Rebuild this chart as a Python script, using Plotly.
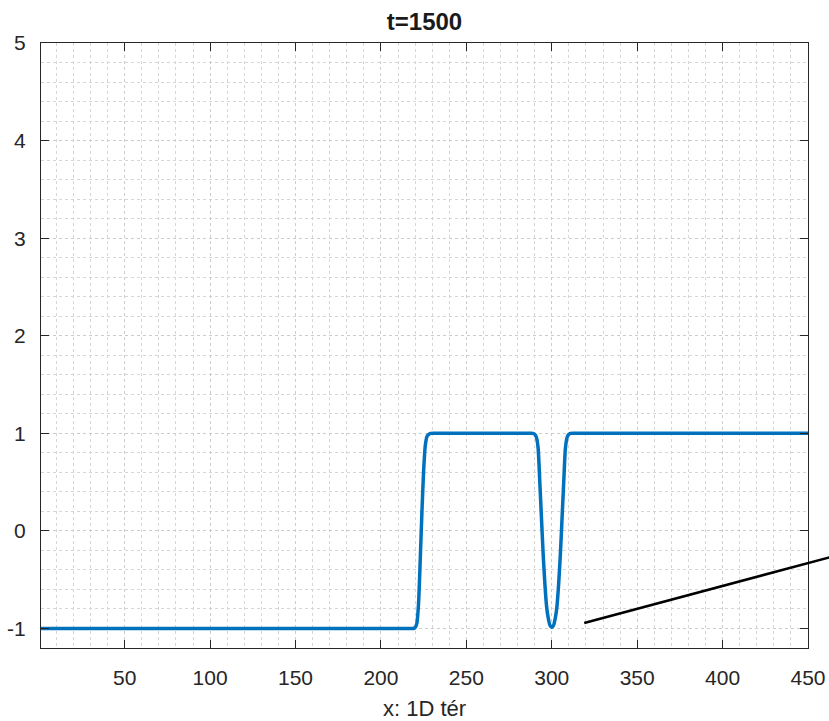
import plotly.graph_objects as go

# ---- data ----
x_vals = [1, 150, 215, 219, 220, 221, 222, 223, 224, 225, 226, 227, 228, 229, 235,
          285, 289, 290, 291, 292, 293, 294, 295, 296, 297, 298, 299, 300,
          301, 302, 303, 304, 305, 306, 307, 308, 309, 310, 311, 315, 400, 450]
u_vals = [-1, -1, -1, -1, -0.99, -0.95, -0.75, -0.3, 0.2, 0.62, 0.88, 0.97, 0.99, 1.0, 1.0,
          1.0, 1.0, 0.99, 0.96, 0.85, 0.5, 0.12, -0.25, -0.55, -0.78, -0.9, -0.97, -0.99,
          -0.97, -0.9, -0.78, -0.55, -0.25, 0.12, 0.5, 0.85, 0.96, 0.99, 1.0, 1.0, 1.0, 1.0]

x_ticks = [50, 100, 150, 200, 250, 300, 350, 400, 450]
y_ticks = [-1, 0, 1, 2, 3, 4, 5]
y_tick_text = ["-1", "0", "1", "2", "3", "4", "5"]
x_range = [1, 450]
y_range = [-1.2, 5]

title_text = "t=1500"
x_label = "x: 1D tér"

# annotation line (data units), extends past the right edge
ann_x = [319, 466]
ann_y = [-0.943, -0.255]

FONT = "Liberation Sans, Arial, Helvetica, sans-serif"
AX = "#262626"

fig = go.Figure()
fig.add_trace(go.Scatter(x=x_vals, y=u_vals, mode="lines",
                         line=dict(color="#0072BD", width=3.5, shape="spline", smoothing=0.6),
                         hoverinfo="skip", showlegend=False))

def to_px(v, rng):
    return (v - rng[0]) / (rng[1] - rng[0])

fig.add_shape(type="line", xref="paper", yref="paper",
              x0=to_px(ann_x[0], x_range), y0=to_px(ann_y[0], y_range),
              x1=to_px(ann_x[1], x_range), y1=to_px(ann_y[1], y_range),
              line=dict(color="black", width=2.6))

axis_common = dict(
    showline=True, linecolor=AX, linewidth=1, mirror="ticks",
    ticks="inside", ticklen=8, tickcolor=AX, tickwidth=1,
    showgrid=True, gridcolor="#cccccc", griddash="dot", gridwidth=1,
    zeroline=False, automargin=False,
    tickfont=dict(family=FONT, size=21, color=AX),
)

fig.update_layout(
    width=829, height=721,
    margin=dict(l=41, r=21, t=43, b=73),
    paper_bgcolor="white", plot_bgcolor="white",
    title=dict(text="<b>" + title_text + "</b>", x=0.5, xref="paper", xanchor="center",
               y=1 - 22 / 721, yanchor="middle",
               font=dict(family=FONT, size=24, color="#1a1a1a")),
    xaxis=dict(range=x_range, tickvals=x_ticks, ticklabelstandoff=11,
               minor=dict(dtick=10, tick0=0, showgrid=True, gridcolor="#d6d6d6",
                          griddash="dot", gridwidth=1, ticks=""),
               title=dict(text=x_label, font=dict(family=FONT, size=22, color=AX), standoff=14),
               **axis_common),
    yaxis=dict(range=y_range, tickvals=y_ticks, ticktext=y_tick_text, ticklabelstandoff=10,
               minor=dict(dtick=0.2, tick0=0, showgrid=True, gridcolor="#d6d6d6",
                          griddash="dot", gridwidth=1, ticks=""),
               **axis_common),
)

fig.write_html("out.html", config={"displayModeBar": False},
               post_script="document.body.style.margin='0';document.body.style.overflow='hidden';")
